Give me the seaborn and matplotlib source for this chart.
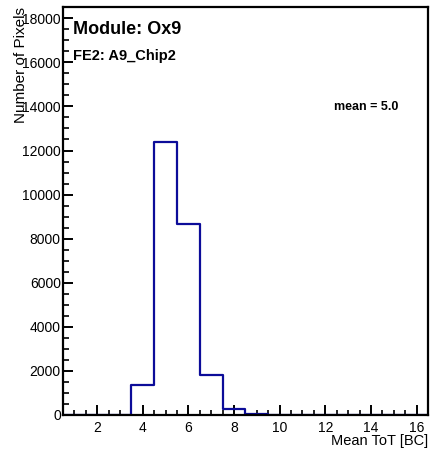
import numpy as np
import pandas as pd
import seaborn as sns
import matplotlib.pyplot as plt
from matplotlib.ticker import MultipleLocator

# histogram contents, one bin per integer ToT value
tot_bins = [1, 2, 3, 4, 5, 6, 7, 8, 9, 10, 11, 12, 13, 14, 15, 16]
n_pixels = [0, 0, 0, 1360, 12400, 8650, 1830, 290, 60, 0, 0, 0, 0, 0, 0, 0]

df = pd.DataFrame({"tot": tot_bins, "n": n_pixels})

sns.set_style("ticks")
plt.rcParams["font.family"] = ["Liberation Sans", "DejaVu Sans"]
plt.rcParams.update({"text.color": "black", "axes.labelcolor": "black",
                     "xtick.color": "black", "ytick.color": "black",
                     "axes.edgecolor": "black"})

fig = plt.figure(figsize=(4.31, 4.54), dpi=100)
ax = fig.add_axes([0.146, 0.086, 0.847, 0.898])

sns.histplot(data=df, x="tot", weights="n", binwidth=1, binrange=(0.5, 16.5),
             element="step", fill=False, color="#0c0c99", linewidth=1.6, ax=ax)

ax.set_xlim(0.5, 16.5)
ax.set_ylim(0, 18500)
ax.xaxis.set_major_locator(MultipleLocator(2))
ax.xaxis.set_minor_locator(MultipleLocator(0.5))
ax.yaxis.set_major_locator(MultipleLocator(2000))
ax.yaxis.set_minor_locator(MultipleLocator(500))
ax.tick_params(which="major", direction="in", length=7.5, width=1.4, labelsize=10,
               top=False, right=False)
ax.tick_params(axis="x", which="major", pad=4.5)
ax.tick_params(axis="y", which="major", pad=1.5)
ax.tick_params(axis="x", which="minor", direction="in", length=3.5, width=1.2, top=False)
ax.tick_params(axis="y", which="minor", direction="in", length=4.5, width=1.2, right=False)
for s in ax.spines.values():
    s.set_linewidth(1.6)

ax.set_xlabel("Mean ToT [BC]", loc="right", fontsize=10.5, labelpad=-1)
ax.set_ylabel("Number of Pixels", loc="top", fontsize=11, labelpad=-4)

ax.text(0.027, 0.945, "Module: Ox9", transform=ax.transAxes, fontsize=13, fontweight="bold", va="center")
ax.text(0.027, 0.88, "FE2: A9_Chip2", transform=ax.transAxes, fontsize=10.5, fontweight="bold", va="center")
ax.text(0.83, 0.755, "mean = 5.0", transform=ax.transAxes, fontsize=9, fontweight="bold", ha="center", va="center")

fig.savefig("out.png", dpi=100)
